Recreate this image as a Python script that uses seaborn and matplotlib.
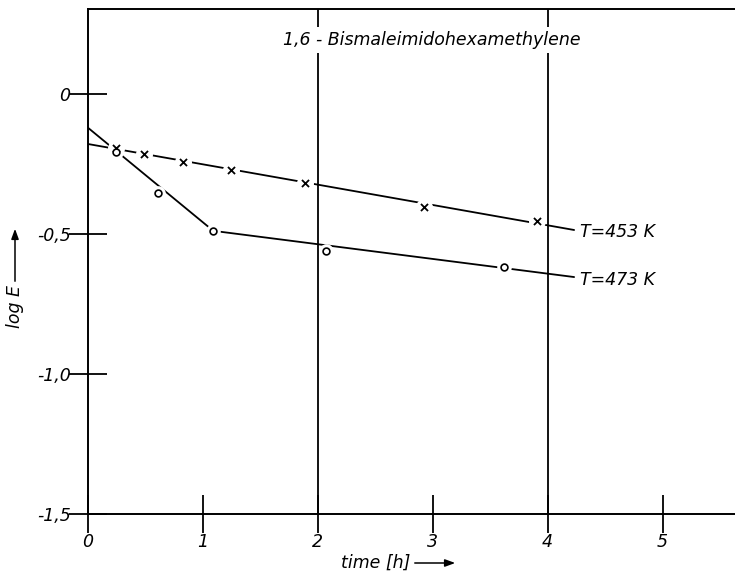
import matplotlib
matplotlib.use("Agg")
import matplotlib.pyplot as plt
import seaborn as sns
import pandas as pd

# ---- data ----
t453 = [0.245, 0.49, 0.83, 1.24, 1.89, 2.92, 3.91]
e453 = [-0.193, -0.214, -0.243, -0.271, -0.318, -0.404, -0.454]
t473 = [0.24, 0.61, 1.09, 2.07, 3.62]
e473 = [-0.207, -0.353, -0.489, -0.561, -0.618]

fit453_t = [0.0, 4.23]
fit453_e = [-0.179, -0.486]
fit473_t = [0.0, 1.09, 4.23]
fit473_e = [-0.121, -0.489, -0.654]

xticks = [0, 1, 2, 3, 4, 5]
xticklabels = ["0", "1", "2", "3", "4", "5"]
yticks = [0.0, -0.5, -1.0, -1.5]
yticklabels = ["0", "-0,5", "-1,0", "-1,5"]
grid_x = [2, 4]

title = "1,6 - Bismaleimidohexamethylene"
label453 = "T=453 K"
label473 = "T=473 K"

sns.set_style("white")
plt.rcParams["font.family"] = ["DejaVu Sans"]
plt.rcParams["font.style"] = "italic"
plt.rcParams["text.color"] = "black"
plt.rcParams["axes.labelcolor"] = "black"
plt.rcParams["xtick.color"] = "black"
plt.rcParams["ytick.color"] = "black"

fig = plt.figure(figsize=(7.35, 5.73), dpi=100)
ax = fig.add_axes([88 / 735, 1 - 514 / 573, 1 - 88 / 735, (514 - 9) / 573])

for gx in grid_x:
    ax.axvline(gx, color="black", lw=1.3, zorder=1)

d453 = pd.DataFrame({"t": fit453_t, "e": fit453_e})
d473 = pd.DataFrame({"t": fit473_t, "e": fit473_e})
sns.lineplot(data=d453, x="t", y="e", ax=ax, color="black", lw=1.3, zorder=2, sort=False)
sns.lineplot(data=d473, x="t", y="e", ax=ax, color="black", lw=1.3, zorder=2, sort=False)

p453 = pd.DataFrame({"t": t453, "e": e453})
p473 = pd.DataFrame({"t": t473, "e": e473})
# white halos to break lines around markers
sns.scatterplot(data=p453, x="t", y="e", ax=ax, color="white", s=150, marker="o",
                linewidth=0, zorder=3)
sns.scatterplot(data=p473, x="t", y="e", ax=ax, color="white", s=110, marker="o",
                linewidth=0, zorder=3)
sns.scatterplot(data=p453, x="t", y="e", ax=ax, color="black", s=26, marker="x",
                linewidth=1.3, zorder=4)
sns.scatterplot(data=p473, x="t", y="e", ax=ax, facecolor="white", edgecolor="black",
                s=24, marker="o", linewidth=1.2, zorder=4)

ax.set_xlim(0, 5.63)
ax.set_ylim(-1.5, 0.303)
ax.set_xticks(xticks)
ax.set_xticklabels(xticklabels)
ax.set_yticks(yticks)
ax.set_yticklabels(yticklabels)
ax.tick_params(bottom=True, left=True, top=False, right=False,
               direction="inout", length=27, width=1.3, labelsize=12.5,
               colors="black")
ax.tick_params(axis="y", pad=-1)
ax.tick_params(axis="x", pad=0)
ax.set_xlabel("")
ax.set_ylabel("")

for side in ["left", "bottom", "top"]:
    ax.spines[side].set_visible(True)
    ax.spines[side].set_color("black")
    ax.spines[side].set_linewidth(1.4)
ax.spines["right"].set_visible(False)

ax.text(2.99, 0.193, title, ha="center", va="center", fontsize=12.5, style="italic",
        bbox=dict(facecolor="white", edgecolor="none", pad=3), zorder=5)
ax.text(4.28, -0.493, label453, ha="left", va="center", fontsize=12.5, style="italic")
ax.text(4.28, -0.664, label473, ha="left", va="center", fontsize=12.5, style="italic")

# axis labels with arrows
fig.text(15 / 735, 1 - 306 / 573, "log E", rotation=90, ha="center", va="center",
         fontsize=12.5, style="italic")
fig.add_artist(matplotlib.patches.FancyArrowPatch(
    (15 / 735, 1 - 284 / 573), (15 / 735, 1 - 226 / 573), transform=fig.transFigure,
    arrowstyle="-|>,head_length=6,head_width=2.2", color="black", lw=1.1))
fig.text(376 / 735, 1 - 563 / 573, "time [h]", ha="center", va="center",
         fontsize=12.5, style="italic")
fig.add_artist(matplotlib.patches.FancyArrowPatch(
    (412 / 735, 1 - 563 / 573), (458 / 735, 1 - 563 / 573), transform=fig.transFigure,
    arrowstyle="-|>,head_length=6,head_width=2.2", color="black", lw=1.1))

fig.savefig("out.png", dpi=100)
